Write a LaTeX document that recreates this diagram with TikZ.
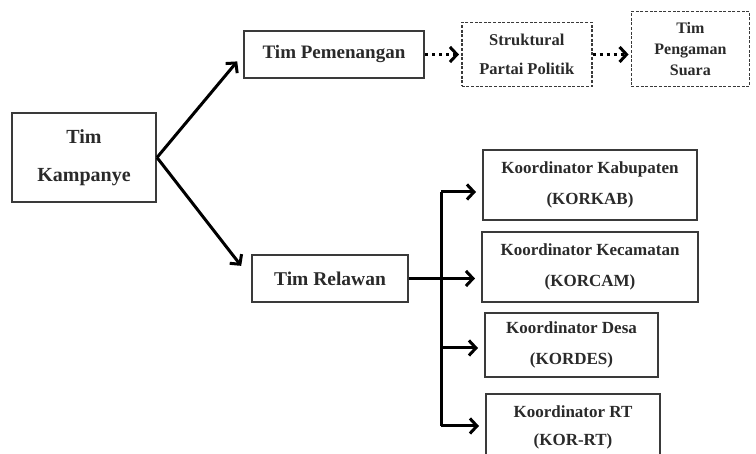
\documentclass[tikz,border=0pt]{standalone}
\usepackage{fontspec}
\setmainfont{Liberation Serif}
\usetikzlibrary{positioning, arrows.meta, calc}
\definecolor{boxline}{HTML}{3A3A3A}
\definecolor{boxtext}{HTML}{2A2A2A}

\begin{document}
\begin{tikzpicture}[x=1pt, y=1pt,
    node distance=10pt and 36pt,
    box/.style={draw=boxline, line width=2pt, font=\bfseries\fontsize{17}{31}\selectfont, text=boxtext, align=center, inner sep=2pt},
    dbox/.style={box, dash pattern=on 3pt off 1.6pt, line width=1.6pt},
    arrow/.style={-{Straight Barb[length=7pt, width=15pt, line width=3pt]}, line width=3pt, black},
    darrow/.style={arrow, dash pattern=on 3pt off 4pt}
  ]
    \useasboundingbox (0,0) rectangle (756,454);
    \node[box, minimum width=144pt, minimum height=89pt, font=\bfseries\fontsize{20}{38}\selectfont] (kamp) at (84,296.5) {Tim\\Kampanye};
    \node[box, minimum width=180pt, minimum height=47pt, font=\bfseries\fontsize{19}{23}\selectfont] (pem) at (334,399.5) {Tim Pemenangan};
    \node[dbox, right=36pt of pem, minimum width=130pt, minimum height=64pt, font=\bfseries\fontsize{16.5}{29}\selectfont] (struk) {Struktural\\Partai Politik};
    \node[dbox, right=38pt of struk, yshift=5.5pt, minimum width=118pt, minimum height=75pt, font=\bfseries\fontsize{16}{21}\selectfont] (peng) {Tim\\Pengaman\\Suara};
    \node[box, minimum width=156pt, minimum height=47pt, font=\bfseries\fontsize{19.5}{23}\selectfont] (rel) at (330,175.5) {Tim Relawan};
    \node[box, minimum width=214pt, minimum height=70pt] (kab) at (590,269) {Koordinator Kabupaten\\(KORKAB)};
    \node[box, below=10pt of kab, minimum width=216pt, minimum height=70pt] (cam) {Koordinator Kecamatan\\(KORCAM)};
    \node[box, below=9pt of cam.south west, anchor=north west, xshift=3pt, minimum width=173pt, minimum height=64pt] (des) {Koordinator Desa\\(KORDES)};
    \node[box, below=15pt of des.south west, anchor=north west, xshift=1pt, minimum width=174pt, minimum height=66pt, font=\bfseries\fontsize{17}{28}\selectfont] (rt) {Koordinator RT\\(KOR-RT)};

    \draw[arrow, shorten >=9pt] (kamp.east) -- (pem.west);
    \draw[arrow, shorten >=16pt] (kamp.east) -- (rel.west);
    \draw[darrow, shorten >=2pt] (pem.east) -- (struk.west);
    \draw[darrow, shorten >=2pt] (struk.east) -- (struk.east -| peng.west);

    % relawan branches
    \coordinate (trunk) at ($(rel.east)+(32pt,0)$);
    \draw[line width=3pt] ($(trunk |- kab.west)+(0,-7)$) -- ($(trunk |- rt.west)+(0,1)$);
    \draw[arrow, shorten >=6pt] (rel.east) -- (rel.east -| cam.west);
    \foreach \b/\dy in {kab/-7, des/-3, rt/1}
      \draw[arrow, shorten >=6pt] ($(trunk |- \b.west)+(0,\dy)$) -- ($(\b.west)+(0,\dy)$);
\end{tikzpicture}
\end{document}
